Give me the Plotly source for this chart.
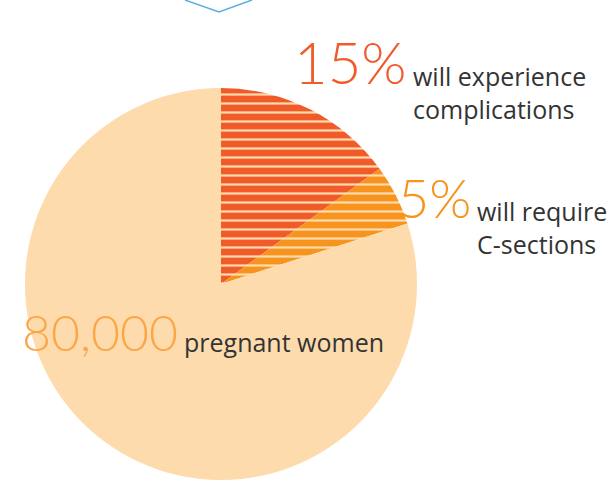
import plotly.graph_objects as go

W, H = 611, 480

labels = ["will experience complications", "will require C-sections", "other pregnant women"]
values = [15, 5, 80]
slice_colors = ["#F15A29", "#F7941D", "#FDDBAD"]
patterns = ["-", "-", ""]

big_numbers = ["15%", "5%", "80,000"]
big_colors = ["#F15A29", "#F7941D", "#FBA748"]
captions = ["will experience<br>complications", "will require<br>C-sections", "pregnant women"]

PEACH = "#FDDBAD"

def px(x):
    return x / W

def py(y):
    return 1 - y / H

fig = go.Figure()
fig.add_trace(go.Pie(
    labels=labels,
    values=values,
    sort=False,
    direction="clockwise",
    rotation=0,
    textinfo="none",
    hoverinfo="skip",
    showlegend=False,
    marker=dict(
        colors=slice_colors,
        line=dict(width=0),
        pattern=dict(shape=patterns, fgcolor=PEACH, bgcolor=slice_colors,
                     size=9, solidity=0.25, fillmode="replace"),
    ),
    domain=dict(x=[px(23), px(419)], y=[0, py(88)]),
))

BIG_FONT = "Lato, Open Sans, sans-serif"
TXT_FONT = "Open Sans, Lato, sans-serif"
BIG_SIZES = [58, 54, 50]
TXT_SIZE = 25

# big numbers: right edge x, baseline y (pixels)
big_pos = [(409, 82), (473, 217), (180, 350)]
# captions: left x, baseline of last line (pixels)
cap_pos = [(413, 117), (477, 252), (184, 350)]
for num, col, (bx, by), sz in zip(big_numbers, big_colors, big_pos, BIG_SIZES):
    fig.add_annotation(
        x=px(bx), y=py(by + 0.27 * sz), xref="paper", yref="paper",
        text=num, showarrow=False, xanchor="right", yanchor="bottom",
        font=dict(family=BIG_FONT, size=sz, color=col, weight=300), align="right",
    )
for cap, (cx, cy) in zip(captions, cap_pos):
    fig.add_annotation(
        x=px(cx - 2), y=py(cy + 0.45 * TXT_SIZE), xref="paper", yref="paper",
        text=cap, showarrow=False, xanchor="left", yanchor="bottom",
        font=dict(family=TXT_FONT, size=TXT_SIZE, color="#333333"), align="left",
    )

# blue hexagon bottom vertex (partial, cut off at top)
hex_x = [185, 219, 252]
hex_y = [0, 12, 0]
fig.add_shape(type="path",
              path=f"M {px(hex_x[0])} {py(hex_y[0])} L {px(hex_x[1])} {py(hex_y[1])} L {px(hex_x[2])} {py(hex_y[2])}",
              xref="paper", yref="paper", line=dict(color="#5DADE2", width=1.5))

fig.update_layout(
    width=W, height=H,
    margin=dict(l=0, r=0, t=0, b=0),
    paper_bgcolor="white", plot_bgcolor="white",
)
fig.write_html("out.html")
